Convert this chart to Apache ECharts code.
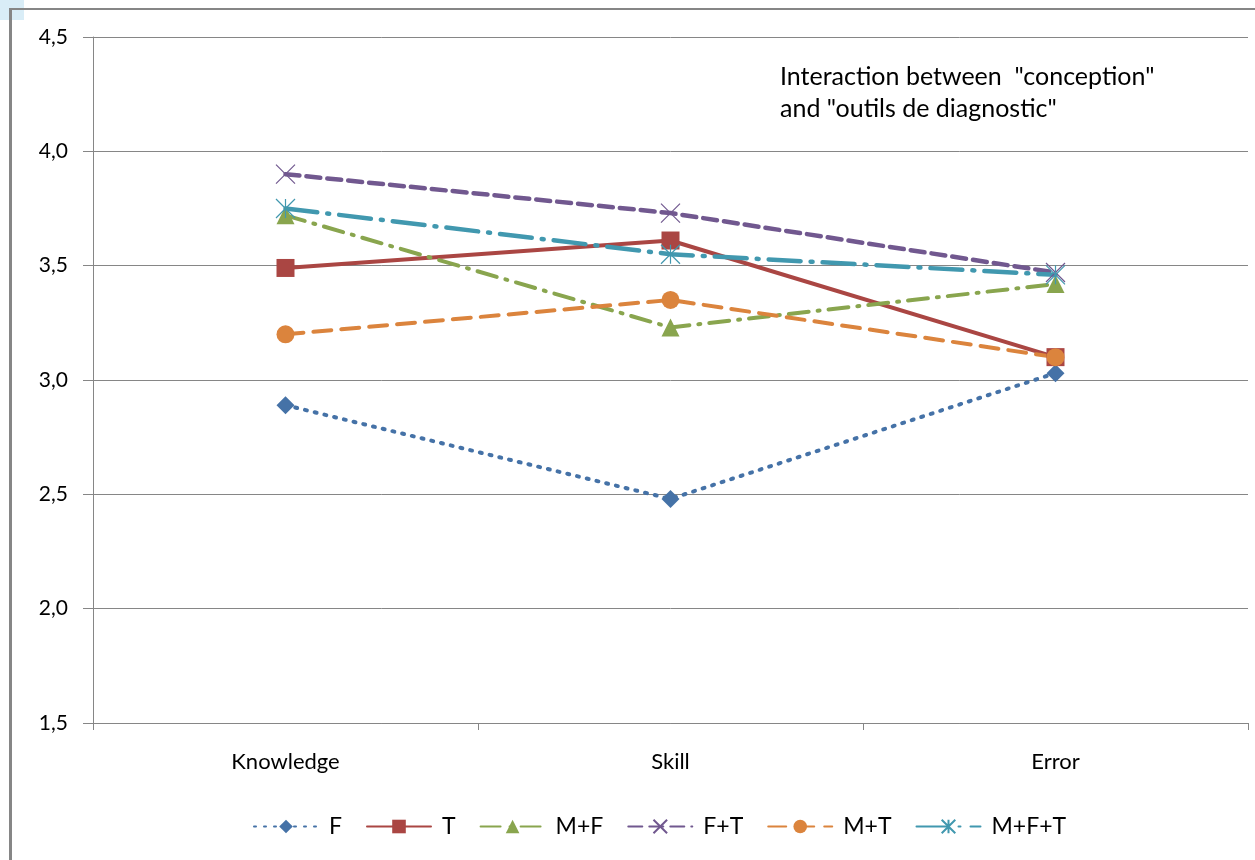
<!DOCTYPE html>
<html><head><meta charset="utf-8">
<script src="https://cdn.jsdelivr.net/npm/echarts@6/dist/echarts.min.js"></script>
<style>html,body{margin:0;padding:0;background:#fff}#c{width:1255px;height:860px}</style>
</head><body><div id="c"></div>
<script>
const categories = ['Knowledge', 'Skill', 'Error'];
const F = [2.89, 2.48, 3.03];
const T = [3.49, 3.61, 3.10];
const MF = [3.72, 3.23, 3.42];
const FT = [3.90, 3.73, 3.47];
const MT = [3.20, 3.35, 3.10];
const MFT = [3.75, 3.55, 3.46];
const seriesNames = ['F', 'T', 'M+F', 'F+T', 'M+T', 'M+F+T'];
const yTicks = [1.5, 2.0, 2.5, 3.0, 3.5, 4.0, 4.5];

const FONT = 'Lato';
const chart = echarts.init(document.getElementById('c'));

function mk(name, data, color, dash, width, symbol, size, hollow) {
  return {
    name, type: 'line', data, color,
    symbol, symbolSize: size,
    lineStyle: { color, width, type: dash, cap: 'round' },
    itemStyle: hollow ? { color: 'rgba(0,0,0,0)', borderColor: color, borderWidth: 1.2 } : { color },
    emphasis: { disabled: true },
    z: 2
  };
}

chart.setOption({
  animation: false,
  backgroundColor: '#fff',
  grid: { left: 93, right: 7, top: 37, bottom: 137 },
  xAxis: {
    type: 'category', data: categories, boundaryGap: true,
    axisLine: { lineStyle: { color: '#868686', width: 1 } },
    axisTick: { show: true, length: 7, lineStyle: { color: '#868686' } },
    axisLabel: { color: '#000', fontFamily: FONT, fontSize: 22, margin: 28 }
  },
  yAxis: {
    type: 'value', min: yTicks[0], max: yTicks[yTicks.length - 1], interval: 0.5,
    axisLine: { show: true, lineStyle: { color: '#868686' } },
    axisTick: { show: true, length: 10, lineStyle: { color: '#868686' } },
    splitLine: { lineStyle: { color: '#868686', width: 1 } },
    axisLabel: { color: '#000', fontFamily: FONT, fontSize: 21, margin: 25,
      formatter: v => v.toFixed(1).replace('.', ',') }
  },
  legend: {
    bottom: 17, left: 248, itemWidth: 64, itemHeight: 17, itemGap: 24,
    textStyle: { color: '#000', fontFamily: FONT, fontSize: 23, padding: [0, 0, 0, 6] },
    data: seriesNames
  },
  graphic: [
    { type: 'rect', shape: { x: 0, y: 0, width: 24, height: 20 }, style: { fill: '#d9edf7' }, z: 0 },
    { type: 'line', shape: { x1: 10, y1: 9, x2: 1255, y2: 9 }, style: { stroke: '#868686', lineWidth: 2 } },
    { type: 'line', shape: { x1: 10.5, y1: 8, x2: 10.5, y2: 860 }, style: { stroke: '#868686', lineWidth: 3 } },
    { type: 'text', left: 780, top: 61, style: {
      text: 'Interaction between  "conception"\nand "outils de diagnostic"',
      fontFamily: FONT, fontSize: 25, lineHeight: 32, fill: '#000' } }
  ],
  series: [
    mk('F', F, '#4572A7', [2, 8], 4, 'diamond', 18),
    mk('T', T, '#AA4643', 'solid', 4, 'rect', 18),
    mk('M+F', MF, '#89A54E', [20, 9, 2, 9], 4, 'triangle', 18),
    mk('F+T', FT, '#71588F', [14, 7], 4.5, 'path://M0,0L10,10M10,0L0,10', 19, true),
    mk('M+T', MT, '#DB843D', [18, 10], 4, 'circle', 18),
    mk('M+F+T', MFT, '#4198AF', [32, 10, 2, 10], 4.5, 'path://M0,0L10,10M10,0L0,10M5,0L5,10', 19, true)
  ]
});
</script></body></html>
